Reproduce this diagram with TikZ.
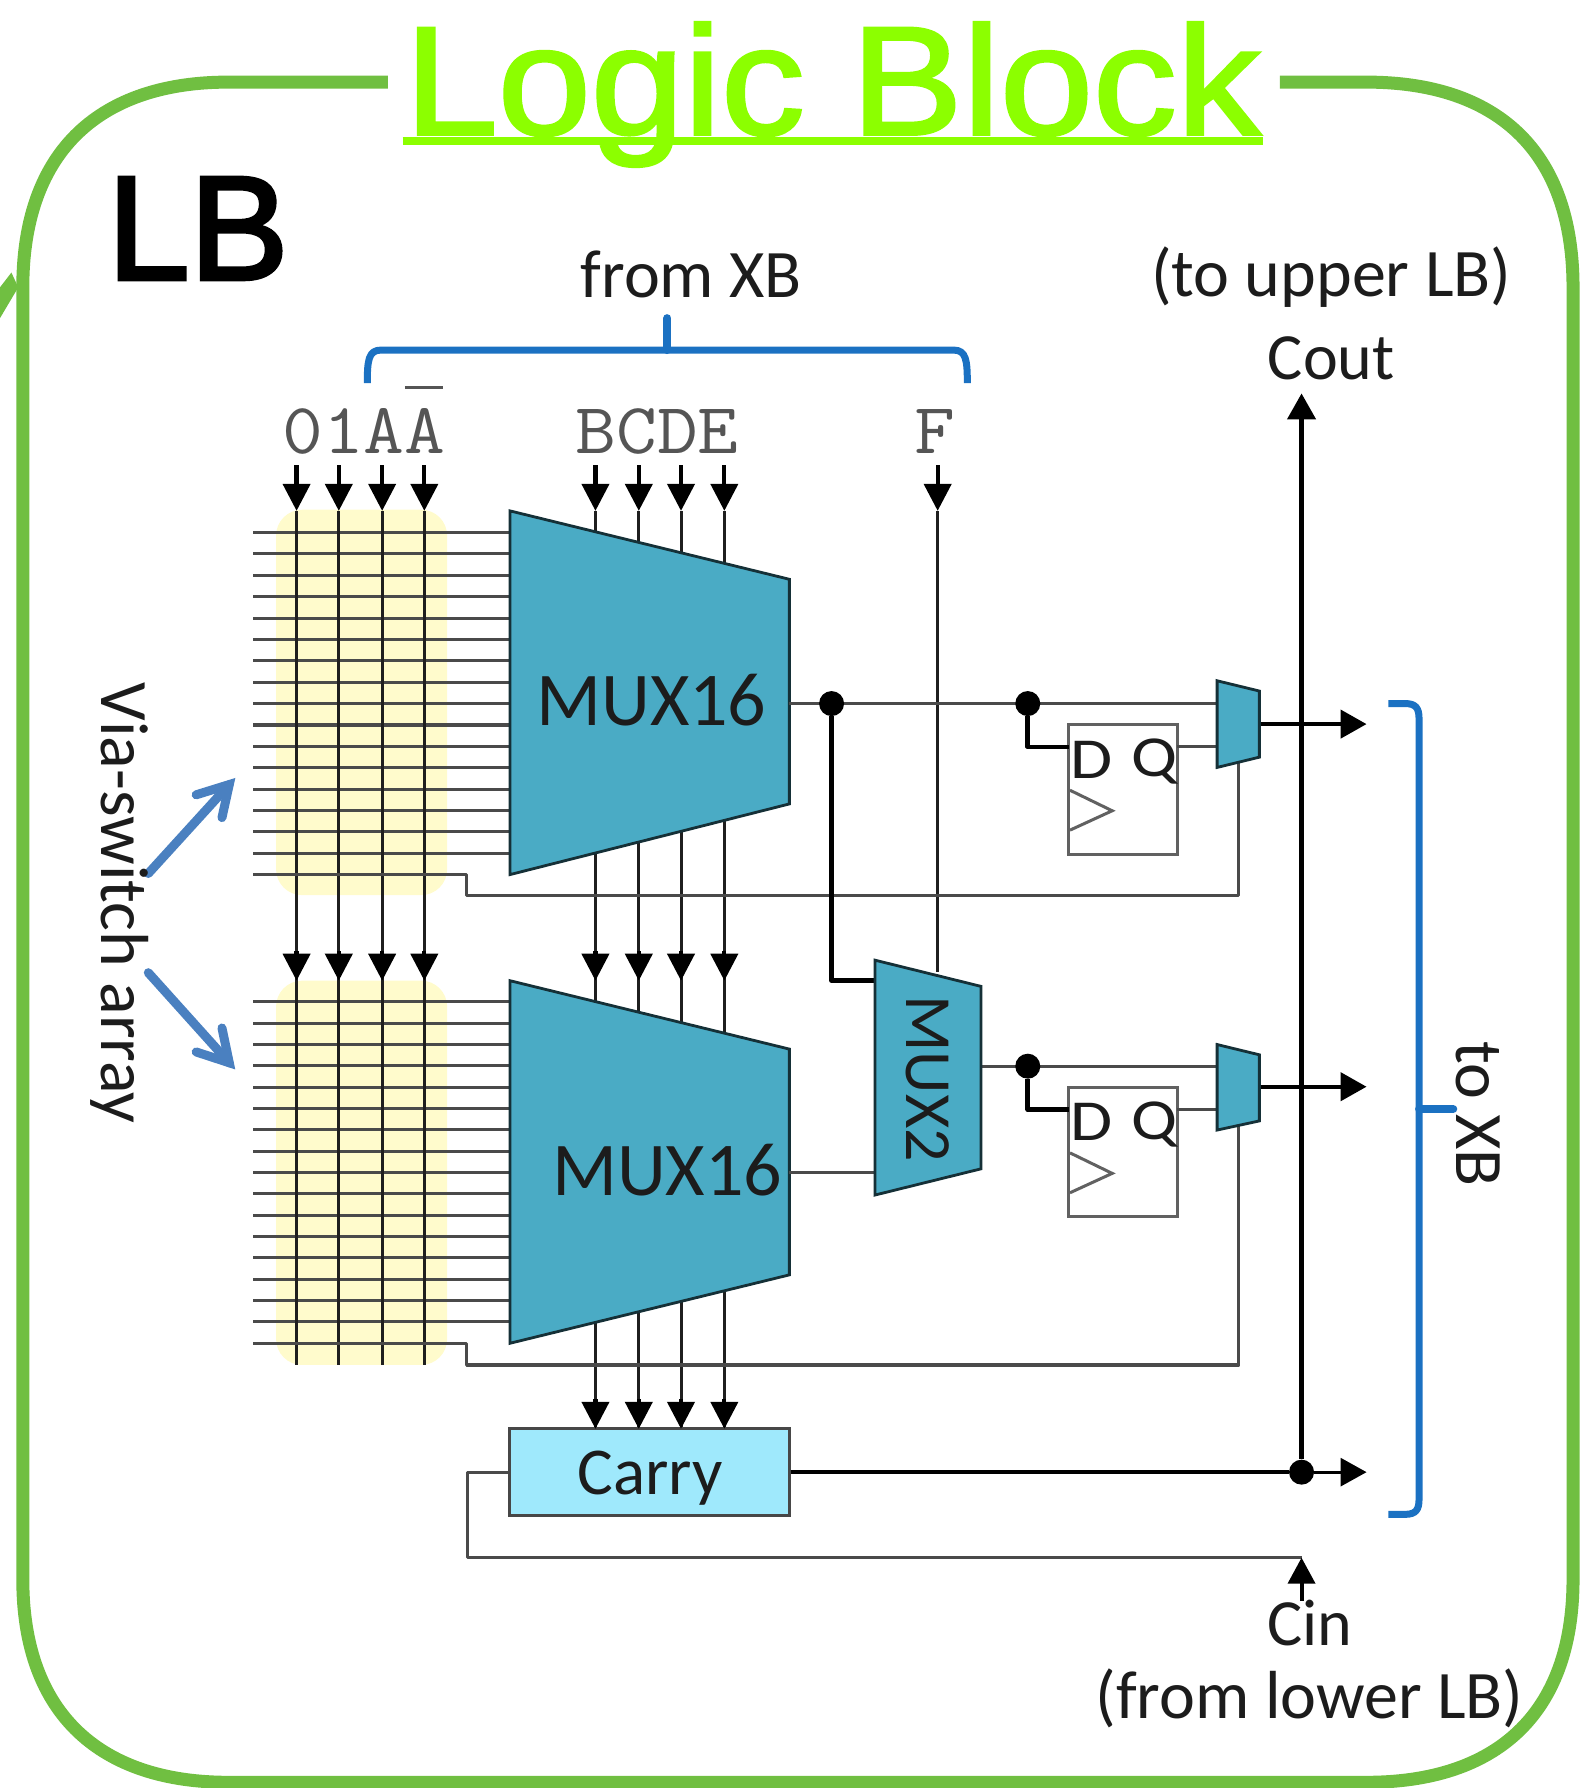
\documentclass[tikz,border=0pt]{standalone}
\usepackage{fontspec}
\setmainfont{Carlito}
\newfontfamily\titlef[FakeBold=1.8]{Liberation Sans}
\newfontfamily\arialf[FakeBold=2.6]{Liberation Sans}
\usetikzlibrary{arrows.meta,calc}
\definecolor{framegreen}{HTML}{70BF41}
\definecolor{titlegreen}{HTML}{8CFF00}
\definecolor{muxblue}{HTML}{4AABC5}
\definecolor{carryblue}{HTML}{9FE9FC}
\definecolor{gridyellow}{HTML}{FFFBCC}
\definecolor{wiregray}{HTML}{4A4A4A}
\definecolor{bracketblue}{HTML}{1B71C2}
\definecolor{viablue}{HTML}{4A80C0}
\definecolor{labelblack}{HTML}{1C1C1C}
\definecolor{monogray}{HTML}{555555}
\newcommand{\fsz}[1]{\fontsize{#1}{#1}\selectfont}
\newcommand{\wideD}[1]{\scalebox{1.18}[1]{#1}}
\newcommand{\wideM}[1]{\scalebox{1.1}[1]{#1}}
\tikzset{
  framepath/.style={draw=framegreen,line width=13pt},
  wire/.style={draw=wiregray,line width=3.1pt,line join=round},
  busline/.style={draw=black!88,line width=3pt},
  fatwire/.style={draw=black,line width=4.6pt,line join=round},
  inarrow/.style={draw=black,line width=4.2pt,-{Triangle[length=27pt,width=27pt]}},
  outarrow/.style={draw=black,line width=4.4pt,-{Triangle[length=26pt,width=28pt]}},
  muxshape/.style={fill=muxblue,draw=black!72!muxblue,line width=2.8pt,line join=miter},
  lbl/.style={inner sep=0pt,text=labelblack,font=\fsz{66}},
  widelbl/.style={inner sep=0pt,text=labelblack,font=\fsz{68}},
  mono/.style={inner sep=0pt,text=monogray,font=\ttfamily\fsz{72}},
  dot/.style={circle,fill=black,inner sep=0pt,minimum size=25pt},
  flipflop/.style={draw=black!62,line width=3pt,fill=white,inner sep=0pt,minimum width=108.5pt,minimum height=129.5pt},
  carrybox/.style={draw=black!72,line width=3pt,fill=carryblue,inner sep=0pt,minimum width=279.5pt,minimum height=86.5pt},
  bracket/.style={draw=bracketblue,line width=7pt,line join=round},
  bracketstub/.style={draw=bracketblue,line width=8pt,line cap=round},
  viaarrow/.style={draw=viablue,line width=9pt,line cap=round,line join=miter},
  yellowbox/.style={fill=gridyellow,rounded corners=26pt},
}
\begin{document}
\begin{tikzpicture}[x=1.14070pt,y=-1.14031pt]
\useasboundingbox (0,0) rectangle (1393,1568);

% outer frame
\draw[framepath] (340,72) -- (200,72) .. controls (90,72) and (20,130) .. (20,252)
  -- (20,1385) .. controls (20,1505) and (90,1563) .. (200,1563)
  -- (1198,1563) .. controls (1310,1563) and (1379,1505) .. (1379,1385)
  -- (1379,252) .. controls (1379,130) and (1310,72) .. (1198,72) -- (1122,72);
\fill[framegreen] (10,239) -- (16,252) -- (0,279) -- (0,252) -- cycle;

% title
\node[anchor=base,inner sep=0pt,text=titlegreen,font=\titlef\fsz{155}] (title) at (730,118) {\scalebox{1.08}[1]{Logic Block}};
\coordinate (ulL) at (353,124);
\coordinate (ulR) at (1107,124);
\draw[draw=titlegreen,line width=8pt] (ulL) -- (ulR);
\node[anchor=base west,inner sep=0pt,text=black,font=\arialf\fsz{148}] (lb) at (94,245) {LB};

% braces
\coordinate (bt1) at (322,336);
\coordinate (bt2) at (848,336);
\coordinate (bttip) at (585,279);
\coordinate (btbase) at (585,307);
\draw[bracket] (bt1) .. controls (322,316) and (323,307) .. (334,307) -- (836,307)
   .. controls (847,307) and (848,316) .. (bt2);
\draw[bracketstub] (bttip) -- (btbase);
\coordinate (br1) at (1217,617);
\coordinate (br2) at (1217,1328);
\coordinate (brtip) at (1274,972.5);
\coordinate (brbase) at (1244,972.5);
\draw[bracket] (br1) -- (1232,617) .. controls (1241,617) and (1244,621) .. (1244,630) -- (1244,1315)
   .. controls (1244,1324) and (1241,1328) .. (1232,1328) -- (br2);
\draw[bracketstub] (brbase) -- (brtip);

% yellow via-switch arrays
\fill[yellowbox] (242,447) rectangle (392,785);
\fill[yellowbox] (242,860) rectangle (392,1197);

% column anchors
\foreach \i/\x in {1/260,2/297,3/335,4/372,5/522,6/560,7/597,8/635,9/822}{
  \coordinate (s\i) at (\x,408);
  \coordinate (h\i) at (\x,448);
  \coordinate (m\i) at (\x,860);
  \coordinate (c\i) at (\x,1253);
  \coordinate (g\i) at (\x,1197);
}
\coordinate (mid2) at (822,852);

% horizontal array lines
\foreach \i in {0,...,15}{
  \coordinate (ra\i) at (222,{467+18.75*\i});
  \coordinate (rb\i) at (222,{878.6+18.7*\i});
  \draw[wire] (ra\i) -- (447,{467+18.75*\i});
  \draw[wire] (rb\i) -- (447,{878.6+18.7*\i});
}
\coordinate (ra16) at (222,767);
\coordinate (rb16) at (222,1178);

% vertical input lines
\foreach \i in {1,2,3,4}{
  \draw[busline] (h\i) -- (m\i);
  \draw[busline] (m\i) -- (g\i);
  \draw[inarrow] (s\i) -- (h\i);
}
\foreach \i in {5,6,7,8}{
  \draw[busline] (h\i) -- (m\i);
  \draw[busline] (m\i) -- (c\i);
  \draw[inarrow] (s\i) -- (h\i);
}
\draw[inarrow] (s9) -- (h9);
\draw[busline] (h9) -- (mid2);
\foreach \i in {1,2,3,4,5,6,7,8}{
  \draw[inarrow] ($(m\i)+(0,-26)$) -- (m\i);
}

% select return wires
\coordinate (sa) at (1086,668);
\coordinate (sb) at (1086,986);
\draw[wire] (ra16) -- (409,767) -- (409,785.5) -- (sa |- 0,785.5) -- (sa);
\draw[wire] (rb16) -- (409,1178) -- (409,1197) -- (sb |- 0,1197) -- (sb);

% MUX16 blocks
\draw[muxshape] (447,448) -- (692,508) -- (692,705) -- (447,767) -- cycle;
\draw[muxshape] (447,860) -- (692,920) -- (692,1118) -- (447,1178) -- cycle;
\node[lbl,font=\fsz{76}] (mux1) at (571,614) {MUX16};
\node[lbl,font=\fsz{76}] (mux2) at (585,1026) {MUX16};

% Flip-flops
\node[flipflop] (ff1) at (984.5,692.3) {};
\node[flipflop] (ff2) at (984.5,1010.3) {};
\foreach \f/\dy in {ff1/0,ff2/318}{
  \draw[draw=black!62,line width=3pt,line join=miter] (938,{693+\dy}) -- (975,{711+\dy}) -- (938,{728+\dy});
  \node[lbl,font=\fsz{58}] at (957,{666+\dy}) {\wideD{D}};
  \node[lbl,font=\fsz{58}] at (1012,{668+\dy}) {\wideD{Q}};
}

% wires around output mux
\coordinate (o1) at (692,617);
\coordinate (i1) at (1066,617);
\coordinate (o2) at (860,935);
\coordinate (i2) at (1066,935);
\coordinate (m2b) at (692,1028);
\coordinate (m2in) at (767,1028);
\coordinate (m2a) at (767,860);
\draw[wire] (o1) -- (i1);
\draw[wire] (o2) -- (i2);
\draw[wire] (m2b) -- (m2in);
\draw[wire] (1032,655) -- (1066,655);
\draw[wire] (1032,973) -- (1066,973);
\node[dot] (d1) at (729,617) {};
\node[dot] (d2) at (901,617) {};
\node[dot] (d3) at (901,935) {};
\draw[fatwire] (d1) -- (729,860) -- (m2a);
\draw[fatwire] (d2) -- (901,655) -- (937,655);
\draw[fatwire] (d3) -- (901,973) -- (937,973);

% Cout / carry chain
\coordinate (coutTip) at (1141,345);
\node[dot] (d4) at (1141,1291) {};
\draw[outarrow] (d4) -- (coutTip);
\draw[outarrow] (1104,635) -- (1198,635);
\draw[outarrow] (1104,953) -- (1198,953);

% MUX2 and small muxes
\draw[muxshape] (767,842) -- (860,865) -- (860,1025) -- (767,1048) -- cycle;
\node[lbl,rotate=-90] (muxtwo) at (813,946) {MUX2};
\draw[muxshape] (1067,597) -- (1104,606) -- (1104,664) -- (1067,673) -- cycle;
\draw[muxshape] (1067,916) -- (1104,925) -- (1104,983) -- (1067,991) -- cycle;

% Carry
\node[carrybox] (carry) at (569.5,1291) {};
\node[lbl,font=\fsz{67}] at (570,1296) {Carry};
\foreach \i in {5,6,7,8}{
  \draw[inarrow] ($(c\i)+(0,-26)$) -- (c\i);
}
\coordinate (outC) at (1198,1291);
\draw[fatwire] (carry.east) -- (d4);
\draw[draw=black,line width=3pt,-{Triangle[length=26pt,width=28pt]}] (d4) -- (outC);
\coordinate (cinJoin) at (1141,1366);
\coordinate (cinEnd) at (1141,1404);
\draw[wire] (carry.west) -- (410,1291) -- (410,1366) -- (cinJoin);
\draw[draw=black,line width=4pt,-{Triangle[length=26pt,width=27pt]}] (cinEnd) -- (cinJoin);

% Via switch arrows
\coordinate (vs1) at (130,766);
\coordinate (ve1) at (201,688);
\coordinate (vs2) at (130,853);
\coordinate (ve2) at (201,932);
\draw[viaarrow] (vs1) -- (ve1);
\draw[viaarrow] (vs2) -- (ve2);
\draw[viaarrow] (172,697) -- (ve1) -- (194.6,717);
\draw[viaarrow] (172,922.5) -- (ve2) -- (194.6,901.5);

% labels
\node[widelbl] (fromxb) at (606,241) {from XB};
\node[widelbl] (toupper) at (1167,243) {(to upper LB)};
\node[lbl] (cout) at (1167,314) {Cout};
\node[mono,anchor=base] (inA) at (319,398) {\wideM{01AA}};
\node[mono,anchor=base] (inB) at (576,398) {\wideM{BCDE}};
\node[mono,anchor=base] (inF) at (820,398) {\wideM{F}};
\coordinate (ovL) at (355,340);
\coordinate (ovR) at (388,340);
\draw[draw=monogray,line width=2.6pt] (ovL) -- (ovR);
\node[widelbl,rotate=-90] (via) at (105,792) {Via-switch array};
\node[widelbl,rotate=-90] (toxb) at (1296,977) {to XB};
\node[lbl] (cin) at (1148,1423) {Cin};
\node[widelbl] (fromlow) at (1148,1489) {(from lower LB)};
\end{tikzpicture}
\end{document}
